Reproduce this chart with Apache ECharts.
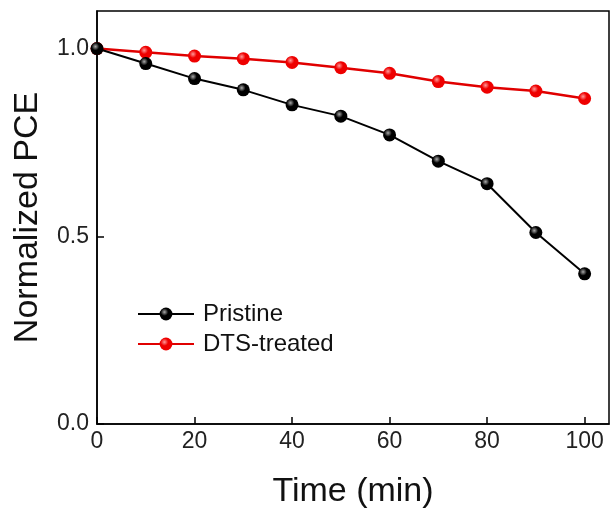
<!DOCTYPE html>
<html><head><meta charset="utf-8">
<script src="https://cdn.jsdelivr.net/npm/echarts@6/dist/echarts.min.js"></script>
<style>html,body{margin:0;padding:0;background:#fff}#c{width:611px;height:511px}</style>
</head><body><div id="c"></div>
<script>
var times = [0, 10, 20, 30, 40, 50, 60, 70, 80, 90, 100];
var pristine = [1.00, 0.96, 0.92, 0.89, 0.85, 0.82, 0.77, 0.70, 0.64, 0.51, 0.40];
var dtsTreated = [1.00, 0.99, 0.98, 0.973, 0.963, 0.949, 0.934, 0.912, 0.897, 0.887, 0.867];
var xTicks = [0, 20, 40, 60, 80, 100];
var yTicks = [0.0, 0.5, 1.0];

function ball(c1, c2) {
  return new echarts.graphic.RadialGradient(0.38, 0.35, 0.65, [
    {offset: 0, color: c1}, {offset: 0.45, color: c2}, {offset: 1, color: c2}
  ]);
}
var font = 'Liberation Sans, Arial, sans-serif';
var chart = echarts.init(document.getElementById('c'), null, {renderer: 'canvas'});
chart.setOption({
  animation: false,
  backgroundColor: '#fff',
  grid: {left: 97, top: 11, right: 2, bottom: 87, containLabel: false, outerBoundsMode: 'none',
    show: true, borderColor: '#000', borderWidth: 1.5, backgroundColor: 'transparent'},
  legend: {
    orient: 'vertical', left: 137, top: 302, padding: 0, itemWidth: 56, itemHeight: 16, itemGap: 6,
    textStyle: {fontFamily: font, fontSize: 24, color: '#111', lineHeight: 20, padding: [0, 0, 0, 4]},
    data: ['Pristine', 'DTS-treated']
  },
  xAxis: {
    type: 'value', min: 0, max: 105, interval: 20,
    name: 'Time (min)', nameLocation: 'middle', nameGap: 51,
    nameTextStyle: {fontFamily: font, fontSize: 34, color: '#111'},
    axisLine: {lineStyle: {color: '#000', width: 1.5}},
    axisTick: {inside: true, length: 7, lineStyle: {color: '#000', width: 1.5}, customValues: xTicks},
    axisLabel: {fontFamily: font, fontSize: 23, color: '#222', margin: 6, customValues: xTicks,
      formatter: function (v) { return String(v); }},
    splitLine: {show: false}
  },
  yAxis: {
    type: 'value', min: 0, max: 1.1, interval: 0.5,
    name: 'Normalized PCE', nameLocation: 'middle', nameGap: 52,
    nameTextStyle: {fontFamily: font, fontSize: 34, color: '#111'},
    axisLine: {lineStyle: {color: '#000', width: 1.5}},
    axisTick: {inside: true, length: 7, lineStyle: {color: '#000', width: 1.5}, customValues: yTicks},
    axisLabel: {fontFamily: font, fontSize: 23, color: '#222', margin: 8, customValues: yTicks,
      formatter: function (v) { return v.toFixed(1); }},
    splitLine: {show: false}
  },
  series: [
    {
      name: 'Pristine', type: 'line',
      data: times.map(function (t, i) { return [t, pristine[i]]; }),
      symbol: 'circle', symbolSize: 13,
      lineStyle: {color: '#000', width: 2},
      itemStyle: {color: ball('#aaaaaa', '#000000'), borderWidth: 0},
      z: 3
    },
    {
      name: 'DTS-treated', type: 'line',
      data: times.map(function (t, i) { return [t, dtsTreated[i]]; }),
      symbol: 'circle', symbolSize: 13,
      lineStyle: {color: '#e00000', width: 2.5},
      itemStyle: {color: ball('#ff9999', '#ee0000'), borderWidth: 0},
      z: 2
    }
  ]
});
</script></body></html>
